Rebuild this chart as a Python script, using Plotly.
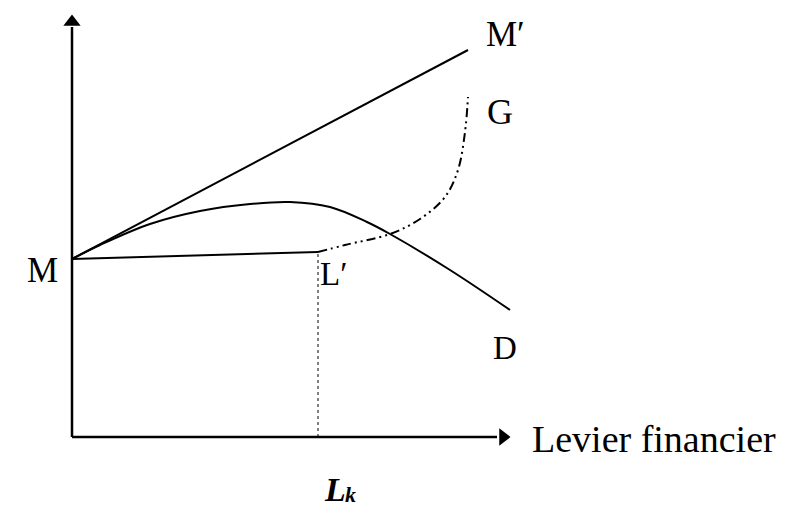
import plotly.graph_objects as go

# Data in diagram units (origin at axes corner)
mprime_x = [0, 396]
mprime_y = [178, 387]
ml_x = [0, 246]
ml_y = [178, 185]
hump_x = [0, 28, 78, 128, 178, 218, 258, 295, 318, 378, 438]
hump_y = [178, 192, 213, 226, 233, 235, 230, 215, 203, 167, 127]
dd_x = [246, 273, 318, 348, 373, 386, 393, 396]
dd_y = [185, 192, 203, 218, 240, 267, 305, 340]
lk_x = 246

labels = [
    ("M", -30, 167, 35),
    ("M′", 433, 403, 35),
    ("G", 428, 325, 36),
    ("L′", 261, 163, 33),
    ("D", 433, 89, 33),
]

fig = go.Figure()
black = "#000"
# axes
fig.add_trace(go.Scatter(x=[0, 0], y=[0, 410], mode="lines", line=dict(color=black, width=2.5)))
fig.add_trace(go.Scatter(x=[0, 425], y=[0, 0], mode="lines", line=dict(color=black, width=2.5)))
fig.add_trace(go.Scatter(x=[0], y=[415], mode="markers",
                         marker=dict(symbol="triangle-up", size=15, color=black)))
fig.add_trace(go.Scatter(x=[431], y=[0], mode="markers",
                         marker=dict(symbol="triangle-right", size=15, color=black)))
# lines
fig.add_trace(go.Scatter(x=mprime_x, y=mprime_y, mode="lines", line=dict(color=black, width=2)))
fig.add_trace(go.Scatter(x=ml_x, y=ml_y, mode="lines", line=dict(color=black, width=2)))
fig.add_trace(go.Scatter(x=hump_x, y=hump_y, mode="lines",
                         line=dict(color=black, width=2, shape="spline")))
fig.add_trace(go.Scatter(x=dd_x, y=dd_y, mode="lines",
                         line=dict(color=black, width=2, shape="spline",
                                   dash="9px,4px,2px,4px,2px,4px")))
fig.add_trace(go.Scatter(x=[lk_x, lk_x], y=[0, ml_y[1]], mode="lines",
                         line=dict(color=black, width=1, dash="dot")))

for t, x, y, s in labels:
    fig.add_annotation(x=x, y=y, text=t, showarrow=False,
                       font=dict(family="Liberation Serif", size=s, color=black))
fig.add_annotation(x=458, y=-2, text="Levier financier", showarrow=False, xanchor="left",
                   font=dict(family="Liberation Serif", size=38, color=black))
fig.add_annotation(x=276, y=-52, text="<b><i>L</i></b>", showarrow=False, xanchor="right",
                   font=dict(family="Liberation Serif", size=34, color=black))
fig.add_annotation(x=271, y=-57, text="<b><i>k</i></b>", showarrow=False, xanchor="left",
                   font=dict(family="Liberation Serif", size=22, color=black))

fig.update_layout(
    width=796, height=521, margin=dict(l=0, r=0, t=0, b=0),
    paper_bgcolor="white", plot_bgcolor="white", showlegend=False,
    xaxis=dict(range=[-64, 732], visible=False, fixedrange=True),
    yaxis=dict(range=[-92, 429], visible=False, fixedrange=True),
)
fig.write_html("out.html")
